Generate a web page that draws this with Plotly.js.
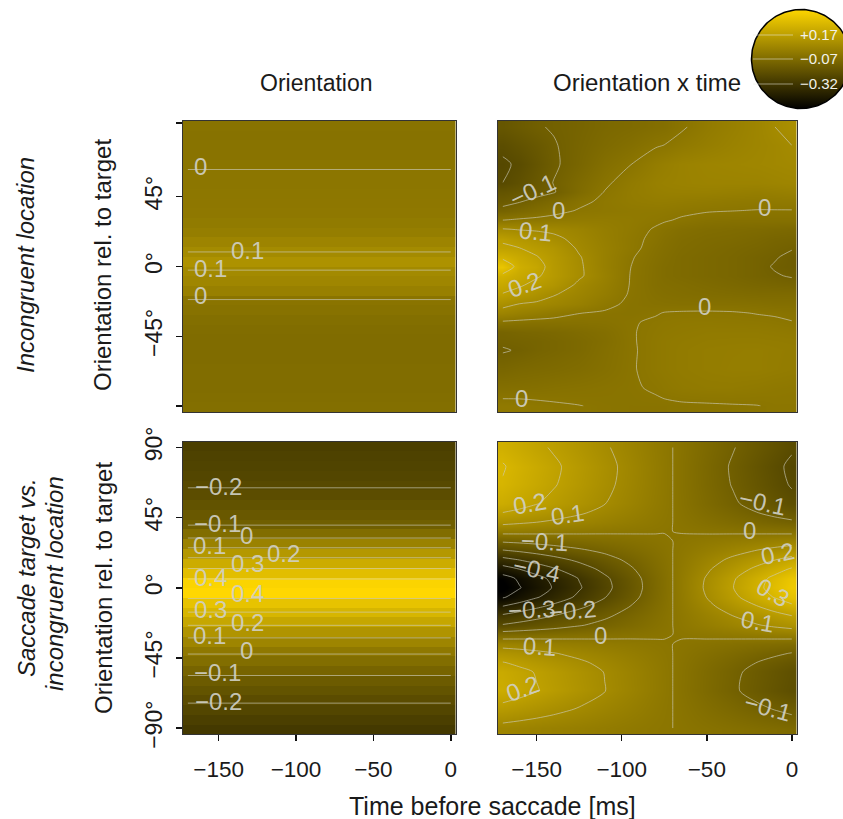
<!DOCTYPE html>
<html><head><meta charset="utf-8">
<script src="https://cdn.plot.ly/plotly-3.0.1.min.js"></script>
<style>html,body{margin:0;padding:0;background:#fff}</style></head>
<body><div id="chart" style="width:843px;height:819px"></div>
<script>
// band rows of the two "Orientation" panels, top to bottom
var bandDeg=[90.625,84.375,78.125,71.875,65.625,59.375,53.125,46.875,40.625,34.375,28.125,21.875,15.625,9.375,3.125,-3.125,-9.375,-15.625,-21.875,-28.125,-34.375,-40.625,-46.875,-53.125,-59.375,-65.625,-71.875,-78.125,-84.375,-90.625];
var incongruentOrientation=[-.012,-.015,-.012,-.008,-.003,.003,.005,.008,.01,.015,.025,.04,.07,.10,.135,.095,.08,.05,-.005,-.015,-.03,-.04,-.045,-.045,-.045,-.04,-.04,-.04,-.035,-.03];
var saccadeOrientation=[-.25,-.24,-.23,-.22,-.205,-.185,-.16,-.135,-.105,-.04,.06,.16,.255,.34,.44,.46,.36,.30,.23,.145,.075,.015,-.035,-.08,-.12,-.155,-.19,-.22,-.25,-.28];
var bandTime=[-170,0];

// grid of the two "Orientation x time" panels
var gridTime=[-170,-160,-150,-140,-125,-110,-95,-80,-75,-65,-50,-35,-20,-10,0];
var gridDeg=[90,78,66,54,48,42,36,30,24,18,12,6,0,-6,-12,-18,-24,-30,-36,-42,-48,-54,-66,-78,-90];
var incongruentTime=[
[-.145,-.125,-.105,-.095,-.08,-.06,-.05,-.035,-.03,-.008,.025,.05,.075,.10,.12],
[-.185,-.16,-.135,-.105,-.075,-.05,-.03,-.005,.001,.02,.04,.06,.075,.085,.1],
[-.21,-.19,-.15,-.11,-.07,-.03,-.002,.035,.045,.06,.07,.075,.08,.085,.09],
[-.2,-.17,-.135,-.098,-.05,-.01,.025,.05,.055,.06,.065,.065,.065,.07,.075],
[-.155,-.14,-.125,-.105,-.045,.002,.03,.045,.048,.05,.05,.045,.04,.045,.05],
[-.125,-.105,-.08,-.055,-.015,.012,.028,.035,.035,.03,.025,.02,.018,.02,.022],
[-.08,-.06,-.04,-.02,.005,.012,.018,.018,.016,.01,.004,.001,-.002,-.002,-.002],
[-.002,.008,.015,.022,.028,.028,.022,.01,.005,-.005,-.018,-.022,-.022,-.022,-.022],
[.105,.095,.09,.085,.065,.04,.02,-.005,-.015,-.03,-.04,-.045,-.05,-.055,-.06],
[.19,.16,.14,.115,.08,.045,.015,-.012,-.025,-.04,-.05,-.055,-.065,-.075,-.08],
[.21,.2,.175,.15,.09,.05,.015,-.02,-.03,-.045,-.055,-.065,-.075,-.085,-.095],
[.28,.24,.205,.165,.105,.05,.005,-.025,-.035,-.05,-.06,-.07,-.085,-.095,-.115],
[.37,.265,.23,.17,.11,.05,.001,-.03,-.04,-.05,-.06,-.07,-.085,-.105,-.115],
[.28,.24,.21,.17,.11,.055,-.001,-.03,-.04,-.05,-.06,-.07,-.085,-.095,-.105],
[.235,.21,.175,.15,.085,.045,-.002,-.03,-.035,-.04,-.05,-.06,-.07,-.075,-.08],
[.195,.165,.135,.105,.07,.035,-.005,-.025,-.03,-.035,-.04,-.045,-.05,-.05,-.05],
[.125,.1,.09,.075,.05,.015,-.01,-.018,-.02,-.022,-.022,-.022,-.025,-.03,-.03],
[.07,.05,.035,.02,.001,-.006,-.012,-.004,.002,.005,.006,.004,-.002,-.005,-.01],
[-.01,-.015,-.018,-.018,-.018,-.015,-.005,.008,.012,.015,.016,.014,.012,.008,.002],
[-.08,-.07,-.065,-.06,-.045,-.03,-.004,.012,.016,.02,.025,.025,.025,.022,.018],
[-.09,-.085,-.08,-.07,-.055,-.035,-.005,.015,.02,.025,.03,.032,.032,.03,.028],
[-.105,-.095,-.08,-.07,-.055,-.03,-.006,.015,.02,.028,.035,.038,.04,.036,.032],
[-.07,-.06,-.055,-.05,-.04,-.025,-.005,.015,.02,.028,.035,.04,.04,.035,.03],
[-.03,-.028,-.025,-.02,-.015,-.01,-.005,.005,.012,.02,.025,.025,.02,.015,.012],
[.02,.018,.012,.006,.001,-.005,-.008,-.008,-.008,-.006,-.005,-.003,-.001,.005,.005]];
var saccadeTime=[
[.272,.245,.217,.191,.150,.109,.068,.027,.013,-.013,-.054,-.095,-.136,-.163,-.191],
[.306,.275,.245,.214,.168,.123,.077,.031,.015,-.015,-.061,-.107,-.153,-.184,-.214],
[.295,.265,.236,.206,.162,.118,.074,.030,.015,-.015,-.059,-.103,-.147,-.177,-.206],
[.255,.230,.204,.179,.140,.102,.064,.026,.013,-.013,-.051,-.089,-.127,-.153,-.179],
[.198,.179,.159,.139,.109,.079,.050,.020,.010,-.010,-.040,-.069,-.099,-.119,-.139],
[.125,.112,.100,.087,.069,.050,.031,.013,.006,-.006,-.025,-.044,-.062,-.075,-.087],
[.028,.026,.023,.020,.016,.011,.007,.003,.001,-.001,-.006,-.010,-.014,-.017,-.020],
[-.085,-.077,-.068,-.060,-.047,-.034,-.021,-.009,-.004,.004,.017,.030,.042,.051,.060],
[-.204,-.184,-.163,-.143,-.112,-.082,-.051,-.021,-.010,.010,.041,.071,.102,.122,.143],
[-.329,-.296,-.263,-.230,-.181,-.132,-.082,-.033,-.016,.016,.066,.115,.164,.197,.230],
[-.442,-.398,-.353,-.310,-.243,-.177,-.111,-.044,-.022,.022,.088,.154,.221,.265,.310],
[-.539,-.485,-.430,-.377,-.296,-.216,-.135,-.054,-.027,.027,.107,.188,.269,.323,.377],
[-.561,-.505,-.448,-.393,-.309,-.225,-.141,-.056,-.028,.028,.112,.196,.280,.337,.393],
[-.510,-.459,-.408,-.357,-.281,-.204,-.128,-.051,-.025,.025,.102,.178,.255,.306,.357],
[-.397,-.357,-.317,-.278,-.218,-.159,-.099,-.040,-.020,.020,.079,.139,.198,.238,.278],
[-.284,-.255,-.227,-.199,-.156,-.114,-.071,-.029,-.014,.014,.057,.099,.142,.170,.199],
[-.193,-.173,-.154,-.135,-.106,-.077,-.048,-.019,-.010,.010,.038,.067,.096,.116,.135],
[-.057,-.051,-.045,-.040,-.031,-.023,-.014,-.006,-.003,.003,.011,.020,.028,.034,.040],
[.062,.056,.050,.044,.034,.025,.016,.006,.003,-.003,-.012,-.022,-.031,-.037,-.044],
[.147,.133,.118,.103,.081,.059,.037,.015,.007,-.007,-.029,-.051,-.074,-.088,-.103],
[.204,.184,.163,.143,.112,.082,.051,.021,.010,-.010,-.041,-.071,-.102,-.122,-.143],
[.244,.219,.195,.171,.134,.098,.061,.025,.012,-.012,-.049,-.085,-.122,-.146,-.171],
[.255,.230,.204,.179,.140,.102,.064,.026,.013,-.013,-.051,-.089,-.127,-.153,-.179],
[.170,.153,.136,.119,.094,.068,.043,.017,.008,-.008,-.034,-.059,-.085,-.102,-.119],
[.074,.066,.059,.052,.041,.030,.018,.007,.004,-.004,-.015,-.026,-.037,-.044,-.052]];

// contour labels: text, time, orientation, rotation
var labelsA=[['0',-161.7,64.3,0],['0.1',-131.4,10.6,0],['0.1',-155.3,-1,0],['0',-161.7,-18.9,0]];
var labelsB=[['−0.1',-152.4,49,-25],['0',-137,36.2,0],['0.1',-150.6,22.7,6],['0.2',-157,-11.8,-20],['0',-15.9,38,0],['0',-51.2,-26,0],['0',-158.8,-84.8,0]];
var labelsC=[['−0.2',-150.1,64.6,0],['−0.1',-150.8,41,0],['0',-132.1,33.3,0],['0.1',-155.9,26.9,0],['0.3',-131.4,15.4,0],['0.2',-108.2,21.8,0],['0.4',-155.3,6.4,0],['0.4',-131.4,-3.8,0],['0.3',-155.3,-14.1,0],['0.2',-131.4,-22.4,0],['0.1',-155.9,-30.7,0],['0',-132.1,-40.3,0],['−0.1',-150.8,-54.4,0],['−0.2',-150.1,-73,0]];
var labelsD=[['0.2',-154.1,53.8,-10],['0.1',-131.8,46.7,-8],['−0.1',-145.3,29.4,3],['−0.4',-150,11.5,12],['−0.3',-152.9,-14.1,-3],['−0.2',-128.8,-14.7,-5],['0',-112.4,-30.7,0],['0.1',-148.2,-37.8,3],['0.2',-158.2,-64.6,-20],['−0.1',-17.1,54.4,12],['0',-24.7,36.5,0],['0.2',-8.2,21.8,-12],['0.3',-11.2,-3.2,30],['0.1',-20,-21.8,10],['−0.1',-14.1,-76.8,15]];

var timeTicks=[-150,-100,-50,0];
var timeTickText=['−150','−100','−50','0'];
var degTicksTop=[-90,-45,0,45,92.5];
var degTicksBottom=[-90,-45,0,45,90];
var degTextTop=['','−45°','0°','45°',''];
var degTextBottom=['−90°','−45°','0°','45°','90°'];
var keyLevels=[.17,-.07,-.32];
var keyText=['+0.17','−0.07','−0.32'];

var W=843,H=819,FONT='"Liberation Sans",Arial,sans-serif';
var scale=[[0,'#000000'],[1,'#FFD700']];
var LINE='rgba(205,205,190,0.7)', TXT='rgba(208,208,198,0.92)';
function row(v){return bandTime.map(function(){return v;});}
function panel(n,x,y,z,smooth){
  var sfx=n===1?'':String(n);
  return [
   {type:'heatmap',x:x,y:y,z:z,xaxis:'x'+sfx,yaxis:'y'+sfx,zmin:-.545,zmax:.455,colorscale:scale,showscale:false,zsmooth:smooth,hoverinfo:'skip'},
   {type:'contour',x:x,y:y,z:z,xaxis:'x'+sfx,yaxis:'y'+sfx,showscale:false,hoverinfo:'skip',autocontour:false,
    contours:{coloring:'none',start:-.5,end:.4,size:.1},line:{color:LINE,width:.9,smoothing:.7}}
  ];
}
var t=[];
t=t.concat(panel(1,bandTime,bandDeg,incongruentOrientation.map(row),false));
t=t.concat(panel(2,gridTime,gridDeg,incongruentTime,'best'));
t=t.concat(panel(3,bandTime,bandDeg,saccadeOrientation.map(row),false));
t=t.concat(panel(4,gridTime,gridDeg,saccadeTime,'best'));

// key: a disc whose vertical axis is the colour value
var cx=[],cy=[];
for(var a=0;a<=180;a++){cx.push(801+49.5*Math.cos(a*Math.PI/90));cy.push(-.07+.495*Math.sin(a*Math.PI/90));}
t.push({type:'scatter',mode:'lines',x:cx,y:cy,xaxis:'x5',yaxis:'y5',fill:'toself',line:{color:'#000',width:1.5},hoverinfo:'skip',
  fillgradient:{type:'vertical',start:-.57,stop:.43,colorscale:scale}});
keyLevels.forEach(function(v){
  t.push({type:'scatter',mode:'lines',x:[753,793],y:[v,v],xaxis:'x5',yaxis:'y5',line:{color:'rgba(235,235,225,0.6)',width:.9},hoverinfo:'skip'});
});

function dom(a,b,S){return [a/S,b/S];}
function vdom(top,bot){return [1-bot/H,1-top/H];}
var frame={showline:true,mirror:true,linecolor:'#333',linewidth:1,showgrid:false,zeroline:false};
function xax(left,right,anchor,ticks){
  return Object.assign({},frame,{domain:dom(left,right,W),range:[-173,3],anchor:anchor,ticks:ticks?'outside':'',ticklen:6,tickwidth:1.5,tickcolor:'#111',
    tickvals:ticks?timeTicks:[],ticktext:ticks?timeTickText:[],showticklabels:!!ticks,tickfont:{family:FONT,size:22.5,color:'#1a1a1a'},ticklabelstandoff:9});
}
function yax(top,bot,anchor,vals,text){
  return Object.assign({},frame,{domain:vdom(top,bot),range:[-93.75,93.75],anchor:anchor,ticks:text?'outside':'',ticklen:6,tickwidth:1.5,tickcolor:'#111',
    tickvals:text?vals:[],ticktext:text||[],showticklabels:!!text,tickangle:-90,tickfont:{family:FONT,size:23,color:'#1a1a1a'},ticklabelstandoff:5});
}
var L1=183,R1=455.5,L2=497.5,R2=797,T1=121,B1=412,T2=441.5,B2=734;
var ann=[];
function addLabels(list,sfx){list.forEach(function(l){
  ann.push({text:l[0],x:l[1],y:l[2],xref:'x'+sfx,yref:'y'+sfx,showarrow:false,textangle:l[3],font:{family:FONT,size:24,color:TXT}});});}
addLabels(labelsA,'');addLabels(labelsB,'2');addLabels(labelsC,'3');addLabels(labelsD,'4');
function paper(text,px,py,size,extra){
  ann.push(Object.assign({text:text,x:px/W,y:1-py/H,xref:'paper',yref:'paper',showarrow:false,xanchor:'center',yanchor:'middle',font:{family:FONT,size:size,color:'#1a1a1a'}},extra||{}));
}
paper('Orientation',316,83,23);
paper('Orientation x time',647,83,24);
paper('Time before saccade [ms]',492,806,25);
paper('Orientation rel. to target',103,265,24,{textangle:-90});
paper('Orientation rel. to target',103,588,24,{textangle:-90});
paper('<i>Incongruent location</i>',26,265,24,{textangle:-90});
paper('<i>Saccade target vs.</i>',26,578,24,{textangle:-90});
paper('<i>incongruent location</i>',54,584,24,{textangle:-90});
keyLevels.forEach(function(v,i){
  ann.push({text:keyText[i],x:819,y:v,xref:'x5',yref:'y5',showarrow:false,font:{family:FONT,size:15,color:'#f2f2ea'}});
});

var layout={width:W,height:H,margin:{l:0,r:0,t:0,b:0},paper_bgcolor:'#fff',plot_bgcolor:'#fff',showlegend:false,annotations:ann,
 xaxis:xax(L1,R1,'y',false),yaxis:yax(T1,B1,'x',degTicksTop,degTextTop),
 xaxis2:xax(L2,R2,'y2',false),yaxis2:yax(T1,B1,'x2',null,null),
 xaxis3:xax(L1,R1,'y3',true),yaxis3:yax(T2,B2,'x3',degTicksBottom,degTextBottom),
 xaxis4:xax(L2,R2,'y4',true),yaxis4:yax(T2,B2,'x4',null,null),
 xaxis5:{domain:dom(745,843,W),range:[745,843],anchor:'y5',visible:false,fixedrange:true},
 yaxis5:{domain:vdom(4,114),range:[-.07-.55,-.07+.55],anchor:'x5',visible:false,fixedrange:true}
};
Plotly.newPlot('chart',t,layout,{displayModeBar:false,staticPlot:true});
</script></body></html>
